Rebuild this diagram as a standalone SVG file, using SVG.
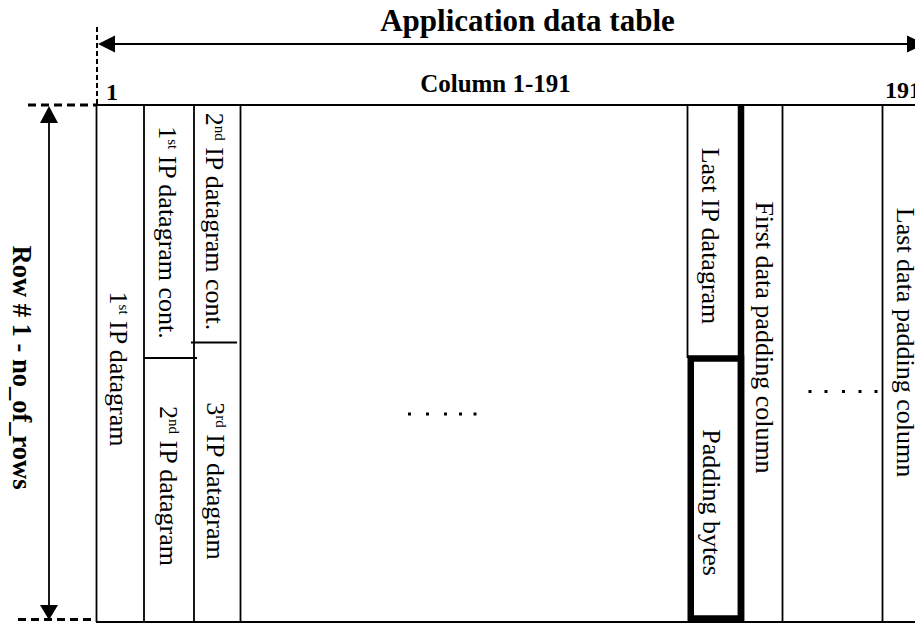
<svg xmlns="http://www.w3.org/2000/svg" width="915" height="624" viewBox="0 0 915 624">
<defs>
<style>
.ln{stroke:#000;stroke-width:1.8;fill:none}
.thick{stroke:#000;stroke-width:6.5;fill:none}
.dash{stroke:#000;stroke-width:3;stroke-dasharray:8 5;fill:none}
.vdash{stroke:#000;stroke-width:2;stroke-dasharray:5 3;fill:none}
.t{font-family:"Liberation Serif","Times New Roman",serif;font-size:26px;fill:#000}
.b{font-family:"Liberation Serif","Times New Roman",serif;font-weight:bold;fill:#000}
.dot{fill:#000}
</style>
</defs>
<rect width="915" height="624" fill="#fff"/>

<g id="labels">
<text class="b" x="527.5" y="31" font-size="31" text-anchor="middle">Application data table</text>
<text class="b" x="495.5" y="92" font-size="25" text-anchor="middle">Column 1-191</text>
<text class="b" x="106" y="100" font-size="24">1</text>
<text class="b" x="885" y="98" font-size="24">191</text>
<text class="b" transform="translate(13,367.5) rotate(90)" font-size="26.5" text-anchor="middle">Row # 1 - no_of_rows</text>
</g>

<g id="connectors">
<path class="vdash" d="M97 27 V105"/>
<path class="dash" d="M28 105 H96"/>
<path class="dash" d="M18 619.5 H96"/>
<path class="ln" d="M114 44 H908"/>
<polygon points="98,44 115,35.5 115,52.5" fill="#000"/>
<polygon points="925,44 907,35.5 907,52.5" fill="#000"/>
<path class="ln" d="M49 122 V607"/>
<polygon points="49,106 40,123 58,123" fill="#000"/>
<polygon points="49,620 40,605 58,605" fill="#000"/>
</g>

<g id="table">
<path class="ln" d="M96 105 H915 M96 622 H915"/>
<path class="ln" d="M96.5 105 V622 M144 105 V622 M194 105 V622 M240.5 105 V622 M687.5 105 V358 M782.5 105 V622 M882.5 105 V622"/>
<path class="ln" d="M144 358 H197 M191 342.5 H237"/>
<path class="thick" d="M741 105 V622"/>
</g>

<g id="col-1st">
<text class="t" transform="translate(110,369) rotate(90)" text-anchor="middle">1<tspan font-size="15" dy="-9">st</tspan><tspan dy="9"> IP datagram</tspan></text>
</g>
<g id="col-1st-cont">
<text class="t" transform="translate(158.5,232.5) rotate(90)" text-anchor="middle">1<tspan font-size="15" dy="-9">st</tspan><tspan dy="9"> IP datagram cont.</tspan></text>
</g>
<g id="col-2nd">
<text class="t" transform="translate(160,486) rotate(90)" text-anchor="middle">2<tspan font-size="15" dy="-9">nd</tspan><tspan dy="9"> IP datagram</tspan></text>
</g>
<g id="col-2nd-cont">
<text class="t" transform="translate(206,221.5) rotate(90)" text-anchor="middle">2<tspan font-size="15" dy="-9">nd</tspan><tspan dy="9"> IP datagram cont.</tspan></text>
</g>
<g id="col-3rd">
<text class="t" transform="translate(206.5,481) rotate(90)" text-anchor="middle">3<tspan font-size="15" dy="-9">rd</tspan><tspan dy="9"> IP datagram</tspan></text>
</g>
<g id="dots-middle">
<rect class="dot" x="408" y="412.5" width="3" height="3"/>
<rect class="dot" x="426" y="412.5" width="3" height="3"/>
<rect class="dot" x="444" y="412.5" width="3" height="3"/>
<rect class="dot" x="459" y="412.5" width="3" height="3"/>
<rect class="dot" x="473.5" y="412.5" width="3" height="3"/>
</g>
<g id="col-last-ip">
<text class="t" transform="translate(702,236) rotate(90)" text-anchor="middle">Last IP datagram</text>
</g>
<g id="padding-bytes">
<rect class="thick" x="690.75" y="358.5" width="50.25" height="260"/>
<text class="t" transform="translate(703,502.5) rotate(90)" text-anchor="middle">Padding bytes</text>
</g>
<g id="col-first-padding">
<text class="t" transform="translate(756,337.5) rotate(90)" text-anchor="middle">First data padding column</text>
</g>
<g id="dots-right">
<rect class="dot" x="808.5" y="390" width="3" height="3"/>
<rect class="dot" x="824.5" y="390" width="3" height="3"/>
<rect class="dot" x="842" y="390" width="3" height="3"/>
<rect class="dot" x="858.5" y="390" width="3" height="3"/>
<rect class="dot" x="874.5" y="390" width="3" height="3"/>
</g>
<g id="col-last-padding">
<text class="t" transform="translate(897,342.5) rotate(90)" text-anchor="middle">Last data padding column</text>
</g>
</svg>
